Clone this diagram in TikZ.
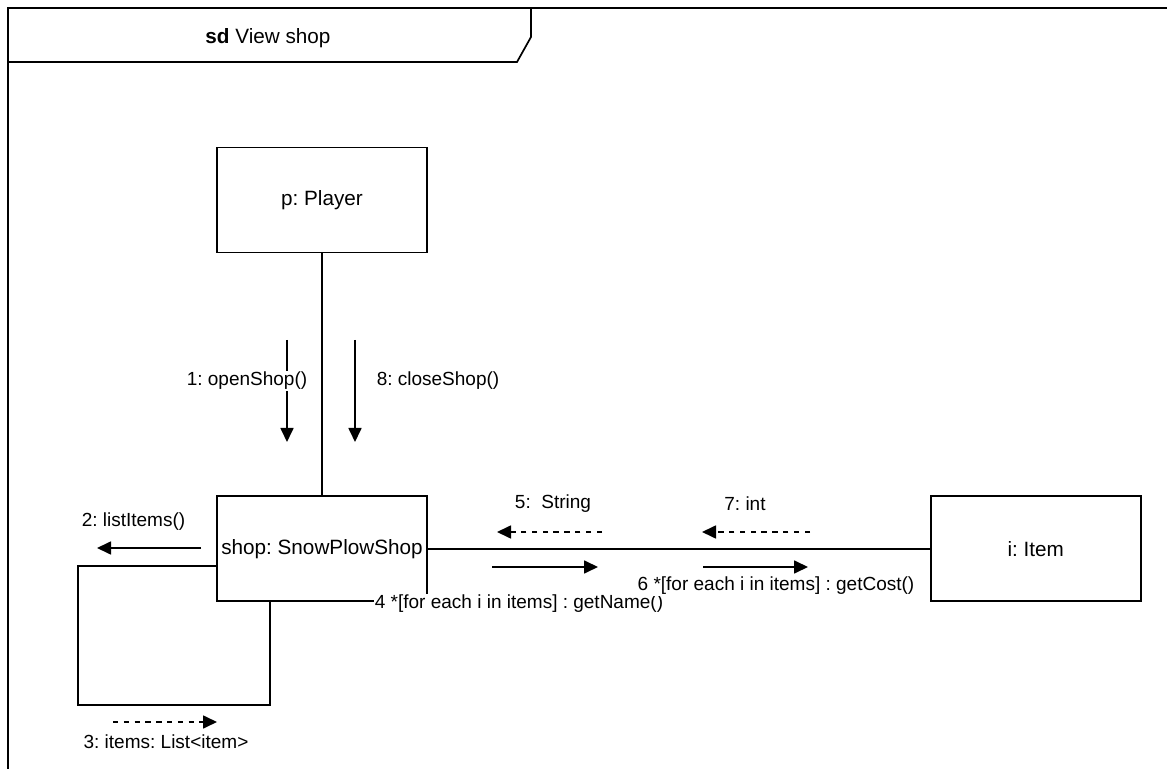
\documentclass[tikz,border=0pt]{standalone}
\usepackage{fontspec}
\setmainfont{Liberation Sans}
\usetikzlibrary{arrows.meta, positioning}
\frenchspacing

\begin{document}
\begin{tikzpicture}[
    x=0.5pt, y=-0.5pt,
    obj/.style={rectangle, draw=black, line width=0.85pt, minimum width=105pt, minimum height=52.5pt, inner sep=0pt, font=\fontsize{10.35pt}{12pt}\selectfont},
    link/.style={draw=black, line width=0.85pt},
    msg/.style={-{Triangle[length=7pt, width=6.5pt]}, line width=0.85pt},
    reply/.style={msg, dash pattern=on 2.7pt off 2.7pt},
    lbl/.style={fill=white, inner sep=0.5pt, font=\fontsize{9.5pt}{11pt}\selectfont}
]
\useasboundingbox (0,0) rectangle (1167,769);

% Frame
\draw[link] (8,769) -- (8,8) -- (1167,8);
\draw[link] (8,62) -- (517,62) -- (531,37) -- (531,8);
\node[font=\fontsize{10.35pt}{12pt}\selectfont] (sdtitle) at (268,38) {\textbf{sd} View shop};

% Objects
\node[obj] (player) at (322,200) {p: Player};
\node[obj, below=121pt of player] (shop) {shop: SnowPlowShop};
\node[obj, right=251pt of shop] (item) {i: Item};

% Links
\draw[link] (player.south) -- (shop.north);
\draw[link] (shop.east) -- (item.west);
\draw[link] ([yshift=-8.75pt]shop.west) -| (78,705) -| ([xshift=-26pt]shop.south);

% Messages
\coordinate (m1s) at (287,340);
\coordinate (m1e) at (287,442);
\draw[msg] (m1s) -- (m1e);
\node[lbl] (m1) at (247,381) {1: openShop()};

\coordinate (m8s) at (355,340);
\coordinate (m8e) at (355,442);
\draw[msg] (m8s) -- (m8e);
\node[lbl] (m8) at (438,381) {8: closeShop()};

\coordinate (m2s) at (201,548);
\coordinate (m2e) at (97,548);
\draw[msg] (m2s) -- (m2e);
\node[lbl] (m2) at (133.5,522) {2: listItems()};

\coordinate (m3s) at (113,722);
\coordinate (m3e) at (217,722);
\draw[reply] (m3s) -- (m3e);
\node[lbl] (m3) at (166,742) {3: items: List<item>};

\coordinate (m4s) at (492,567);
\coordinate (m4e) at (598,567);
\draw[msg] (m4s) -- (m4e);
\node[lbl] (m4) at (519,604) {4 *[for each i in items] : getName()};

\coordinate (m5s) at (602,532);
\coordinate (m5e) at (497,532);
\draw[reply] (m5s) -- (m5e);
\node[lbl] (m5) at (553,504) {5:\ \ String};

\coordinate (m6s) at (703,567);
\coordinate (m6e) at (808,567);
\draw[msg] (m6s) -- (m6e);
\node[lbl] (m6) at (776,586) {6 *[for each i in items] : getCost()};

\coordinate (m7s) at (810,532);
\coordinate (m7e) at (702,532);
\draw[reply] (m7s) -- (m7e);
\node[lbl] (m7) at (745,504) {7: int};
\end{tikzpicture}
\end{document}
